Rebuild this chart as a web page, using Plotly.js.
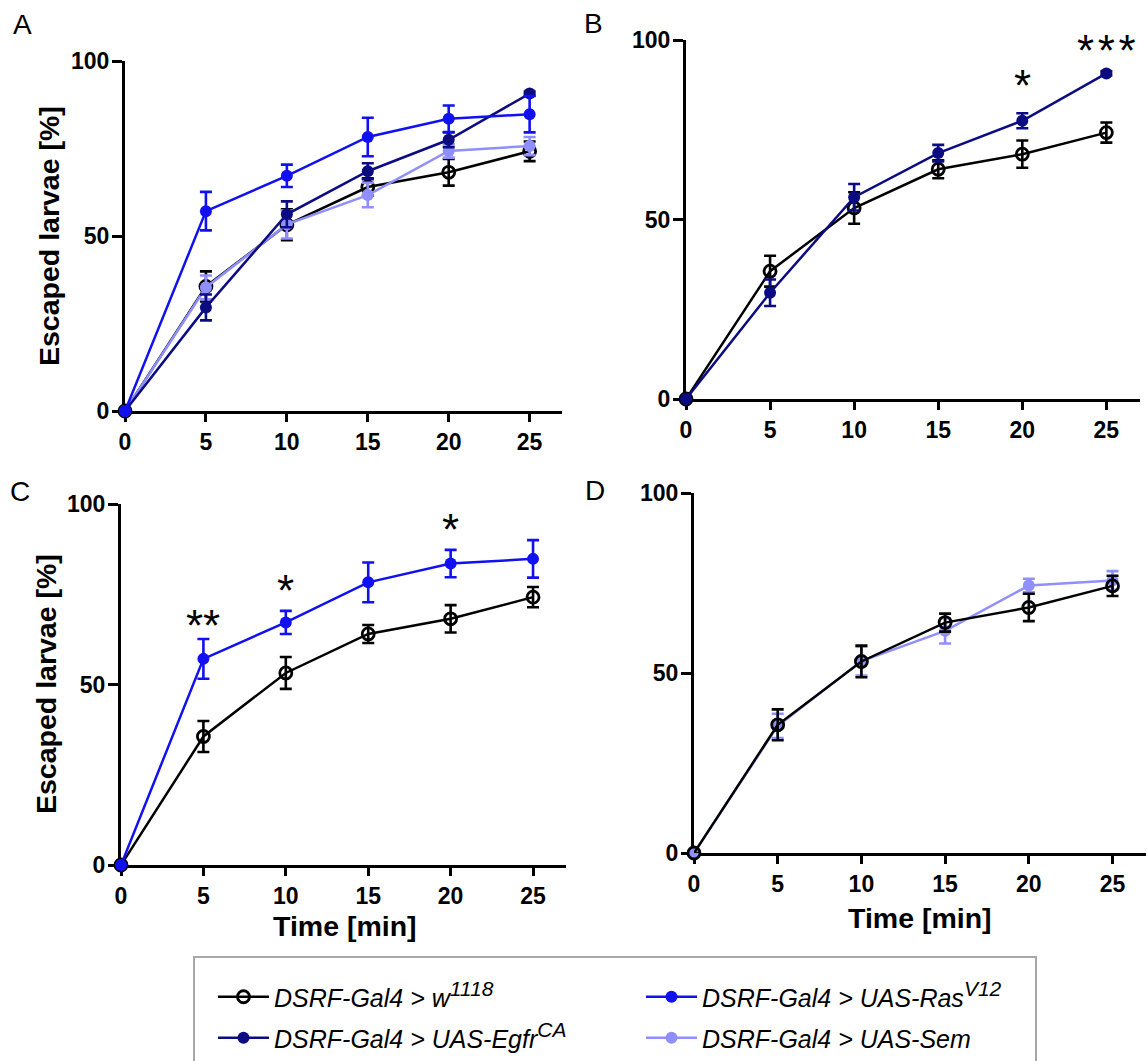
<!DOCTYPE html>
<html>
<head>
<meta charset="utf-8">
<script src="https://cdn.plot.ly/plotly-3.0.1.min.js"></script>
<style>html,body{margin:0;padding:0;background:#fff;}#chart{width:1148px;height:1061px;}</style>
</head>
<body>
<div id="chart"></div>
<script>
// ---------------- data ----------------
const timeMin = [0, 5, 10, 15, 20, 25];
const xTickVals = [0, 5, 10, 15, 20, 25];
const yTickVals = [0, 50, 100];

const w1118Mean = [0, 35.6, 53.2, 64.0, 68.2, 74.2];
const w1118Err  = [0, 4.3, 4.4, 2.5, 3.8, 2.8];

const rasMean = [0, 57.1, 67.2, 78.3, 83.5, 84.8];
const rasErr  = [0, 5.5, 3.2, 5.5, 3.8, 5.2];

const egfrMean = [0, 29.6, 56.2, 68.5, 77.5, 90.7];
const egfrErr  = [0, 3.7, 3.7, 2.3, 2.1, 0.6];

const semMean = [0, 35.3, 53.3, 61.7, 74.3, 75.7];
const semErr  = [0, 3.4, 4.0, 3.5, 1.9, 2.6];

const SUP = s => '<sup><span style="font-size:21px">' + s + '</span></sup>';
const seriesNames = {
  w1118: '<i>DSRF-Gal4 &gt; w' + SUP('1118') + '</i>',
  ras:   '<i>DSRF-Gal4 &gt; UAS-Ras' + SUP('V12') + '</i>',
  egfr:  '<i>DSRF-Gal4 &gt; UAS-Egfr' + SUP('CA') + '</i>',
  sem:   '<i>DSRF-Gal4 &gt; UAS-Sem</i>'
};

// significance marks: [time, label]
const sigB = [[20, '*'], [25, '*\u200a*\u200a*']];
const sigBHeight = [89.4, 99.2];
const sigC = [[5, '**'], [10, '*'], [20, '*']];
const sigCHeight = [68.4, 78.1, 95.0];

// ---------------- styling ----------------
const COL = {w1118: '#000000', ras: '#1010f0', egfr: '#0c0c82', sem: '#8f8fff'};
const W = 1148, H = 1061;

function mk(key, mean, err, xa, ya, showlegend, legendId) {
  const open = key === 'w1118';
  return {
    type: 'scatter', mode: 'lines+markers',
    x: timeMin, y: mean,
    xaxis: xa, yaxis: ya,
    name: seriesNames[key],
    showlegend: showlegend,
    legend: legendId,
    cliponaxis: false,
    line: {color: COL[key], width: 2.5},
    marker: open
      ? {symbol: 'circle-open', size: 12, color: COL[key], line: {color: COL[key], width: 2.8}}
      : {symbol: 'circle', size: 12, color: COL[key], line: {color: COL[key], width: 0}},
    error_y: {type: 'data', array: err, visible: true, color: COL[key], thickness: 2.6, width: 6},
    hoverinfo: 'skip'
  };
}

const traces = [
  // Panel A
  mk('w1118', w1118Mean, w1118Err, 'x', 'y', true, 'legend'),
  mk('sem', semMean, semErr, 'x', 'y', true, 'legend4'),
  mk('egfr', egfrMean, egfrErr, 'x', 'y', true, 'legend3'),
  mk('ras', rasMean, rasErr, 'x', 'y', true, 'legend2'),
  // Panel B
  mk('w1118', w1118Mean, w1118Err, 'x2', 'y2', false),
  mk('egfr', egfrMean, egfrErr, 'x2', 'y2', false),
  // Panel C
  mk('w1118', w1118Mean, w1118Err, 'x3', 'y3', false),
  mk('ras', rasMean, rasErr, 'x3', 'y3', false),
  // Panel D
  mk('sem', semMean, semErr, 'x4', 'y4', false),
  mk('w1118', w1118Mean, w1118Err, 'x4', 'y4', false)
];

// pixel boxes of plot areas: [left, right, top, bottom]
const boxes = {
  A: [125, 562, 61, 411],
  B: [686, 1140, 40, 399],
  C: [121, 566, 504, 865],
  D: [694, 1146, 493, 853]
};
function xdom(b) { return [b[0] / W, b[1] / W]; }
function ydom(b) { return [1 - b[3] / H, 1 - b[2] / H]; }

const tickFont = {family: 'Liberation Sans, Arial, sans-serif', size: 23, color: '#000', weight: 'bold'};
function xax(b, anchor) {
  return {domain: xdom(b), anchor: anchor, range: [0, 27], tickvals: xTickVals,
    showline: true, linewidth: 3, linecolor: '#000', ticks: 'outside', ticklen: 8, tickwidth: 3, tickcolor: '#000',
    showgrid: false, zeroline: false, tickfont: tickFont, fixedrange: true, layer: 'below traces', ticklabelstandoff: 0};
}
function yax(b, anchor) {
  return {domain: ydom(b), anchor: anchor, range: [0, 100], tickvals: yTickVals,
    showline: true, linewidth: 3, linecolor: '#000', ticks: 'outside', ticklen: 10, tickwidth: 3, tickcolor: '#000',
    showgrid: false, zeroline: false, tickfont: tickFont, fixedrange: true, layer: 'below traces', ticklabelstandoff: -2};
}

const titleFont = {family: 'Liberation Sans, Arial, sans-serif', size: 28.5, color: '#000', weight: 'bold'};
const letterFont = {family: 'Liberation Sans, Arial, sans-serif', size: 28, color: '#000'};
const starFont = {family: 'Liberation Sans, Arial, sans-serif', size: 44, color: '#000'};

const annotations = [];
function paperAnn(text, px, py, font, angle) {
  annotations.push({text: text, xref: 'paper', yref: 'paper', x: px / W, y: 1 - py / H,
    xanchor: 'center', yanchor: 'middle', showarrow: false, font: font, textangle: angle || 0});
}
paperAnn('A', 22, 25, letterFont);
paperAnn('B', 593, 23, letterFont);
paperAnn('C', 20, 491, letterFont);
paperAnn('D', 595, 490, letterFont);
paperAnn('Escaped larvae [%]', 49, 236, titleFont, -90);
paperAnn('Escaped larvae [%]', 46, 684, titleFont, -90);
paperAnn('Time [min]', 345, 926, titleFont);
paperAnn('Time [min]', 920, 918, titleFont);

sigB.forEach((s, i) => annotations.push({text: s[1], x: s[0], y: sigBHeight[i] - 2, xref: 'x2', yref: 'y2',
  showarrow: false, font: starFont, xanchor: 'center', yanchor: 'middle'}));
sigC.forEach((s, i) => annotations.push({text: s[1], x: s[0], y: sigCHeight[i] - 2, xref: 'x3', yref: 'y3',
  showarrow: false, font: starFont, xanchor: 'center', yanchor: 'middle'}));

const legFont = {family: 'Liberation Sans, Arial, sans-serif', size: 25, color: '#000'};
function leg(px, py) {
  return {x: px / W, y: 1 - py / H, xanchor: 'left', yanchor: 'middle', font: legFont,
    bgcolor: 'rgba(0,0,0,0)', borderwidth: 0, itemwidth: 51, orientation: 'v'};
}

const layout = {
  width: W, height: H,
  margin: {l: 0, r: 0, t: 0, b: 0},
  paper_bgcolor: '#fff', plot_bgcolor: 'rgba(0,0,0,0)',
  showlegend: true,
  xaxis: xax(boxes.A, 'y'), yaxis: yax(boxes.A, 'x'),
  xaxis2: xax(boxes.B, 'y2'), yaxis2: yax(boxes.B, 'x2'),
  xaxis3: xax(boxes.C, 'y3'), yaxis3: yax(boxes.C, 'x3'),
  xaxis4: xax(boxes.D, 'y4'), yaxis4: yax(boxes.D, 'x4'),
  legend: leg(213, 997),
  legend2: leg(641, 997),
  legend3: leg(213, 1038),
  legend4: leg(641, 1038),
  annotations: annotations,
  shapes: [{type: 'rect', xref: 'paper', yref: 'paper', x0: 194 / W, x1: 1036 / W, y0: -0.05, y1: 1 - 957 / H,
    line: {color: '#a8a8a8', width: 2}, fillcolor: 'rgba(0,0,0,0)'}]
};

Plotly.newPlot('chart', traces, layout, {displayModeBar: false, staticPlot: true});
</script>
</body>
</html>
